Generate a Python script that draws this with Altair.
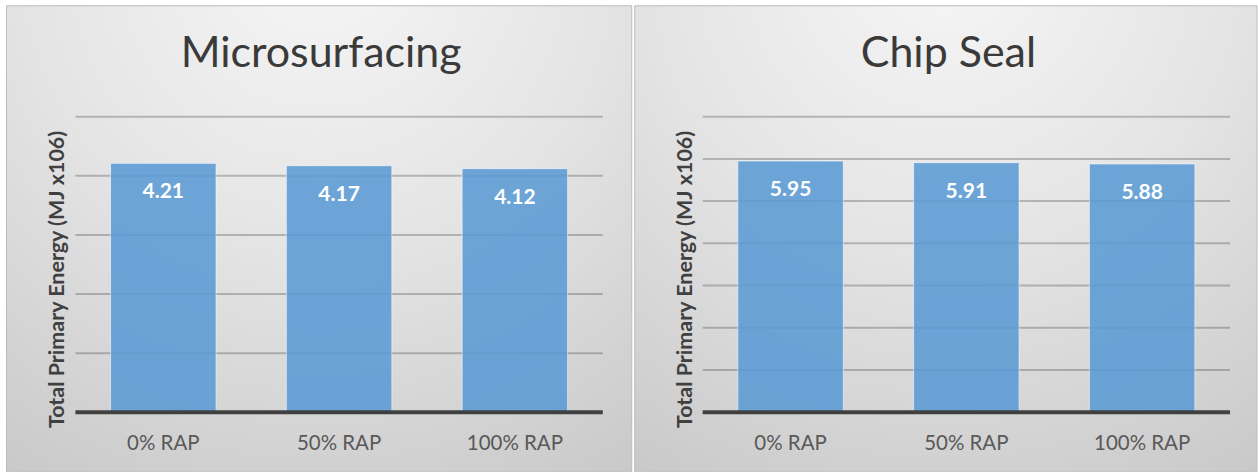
import altair as alt
import pandas as pd

categories = ["0% RAP", "50% RAP", "100% RAP"]
micro_values = [4.21, 4.17, 4.12]
chip_values = [5.95, 5.91, 5.88]
micro_grid = [1, 2, 3, 4, 5]
chip_grid = [1, 2, 3, 4, 5, 6, 7]
panel_titles = ["Microsurfacing", "Chip Seal"]
y_title = "Total Primary Energy (MJ x106)"

FONT = "Lato"
W, H = 528, 296

bg_gradient = {
    "gradient": "radial",
    "x1": 0.5, "y1": 0.05, "r1": 0.0,
    "x2": 0.5, "y2": 0.05, "r2": 1.05,
    "stops": [
        {"offset": 0.0, "color": "#f6f6f6"},
        {"offset": 0.45, "color": "#e4e4e4"},
        {"offset": 1.0, "color": "#c4c4c4"},
    ],
}


def panel(title, values, grid, ymax, bx, bx2):
    df = pd.DataFrame({"cat": categories, "val": values})
    gdf = pd.DataFrame({"g": grid})
    base_df = pd.DataFrame({"b": [0]})
    one = pd.DataFrame({"a": [0]})

    yscale = alt.Scale(domain=[0, ymax], nice=False, zero=True)
    xscale = alt.Scale(paddingInner=0.4, paddingOuter=0.2)
    xenc = alt.X("cat:N", sort=categories, scale=xscale, axis=None)
    yenc = alt.Y("val:Q", scale=yscale, axis=None)

    bg = alt.Chart(one).mark_rect(
        color=bg_gradient, stroke="#bdbdbd", strokeWidth=1
    ).encode(
        x=alt.value(bx), x2=alt.value(bx2), y=alt.value(-111), y2=alt.value(356)
    )
    gridlines = alt.Chart(gdf).mark_rule(
        color="black", opacity=0.22, strokeWidth=2
    ).encode(y=alt.Y("g:Q", scale=yscale, axis=None))
    bars = alt.Chart(df).mark_bar(
        color="#5b9bd5", opacity=0.87, stroke="white", strokeOpacity=0.6, strokeWidth=1
    ).encode(x=xenc, y=yenc)
    labels = alt.Chart(df).mark_text(
        color="white", font=FONT, fontSize=21, fontWeight="bold",
        baseline="alphabetic", dy=35,
    ).encode(
        x=xenc, y=yenc,
        text=alt.Text("val:Q", format=".2f"),
    )
    baseline = alt.Chart(base_df).mark_rule(
        color="#404040", strokeWidth=4
    ).encode(y=alt.Y("b:Q", scale=yscale, axis=None))
    xlabels = alt.Chart(df).mark_text(
        color="#595959", font=FONT, fontSize=20.5, baseline="alphabetic", dy=38,
    ).encode(x=xenc, y=alt.datum(0), text="cat:N")
    ytitle = alt.Chart(one).mark_text(
        text=y_title, angle=270, color="#404040", font=FONT, fontSize=21.5,
        fontWeight="bold", baseline="alphabetic", align="center",
    ).encode(x=alt.value(-11), y=alt.value(163))

    return alt.layer(bg, gridlines, bars, labels, baseline, xlabels, ytitle).properties(
        width=W, height=H,
        title=alt.TitleParams(
            text=title, font=FONT, fontSize=43, fontWeight="normal",
            color="#3a3a3a", anchor="middle", frame="group", offset=-105,
            baseline="alphabetic", dx=-18, zindex=1,
        ),
    )


left = panel(panel_titles[0], micro_values, micro_grid, 5, -69, 557)
right = panel(panel_titles[1], chip_values, chip_grid, 7, -68, 555)

chart = alt.hconcat(left, right, spacing=100, bounds="flush").properties(
    autosize=alt.AutoSizeParams(type="pad"),
    padding={"left": 5.5, "top": 4.5, "right": 0, "bottom": 0},
    background="white",
).configure_view(stroke=None)

chart.save("out.html", embed_options={"renderer": "svg", "actions": False})
